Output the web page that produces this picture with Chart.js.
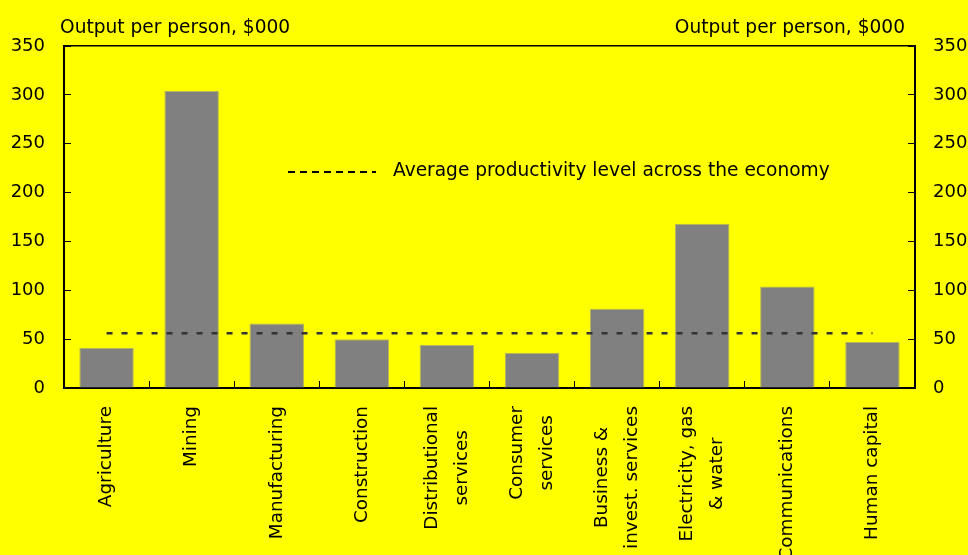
<!DOCTYPE html>
<html>
<head>
<meta charset="utf-8">
<script src="https://cdn.jsdelivr.net/npm/chart.js@4"></script>
<style>
  html, body { margin: 0; padding: 0; background: #ffff00; }
  canvas { display: block; }
</style>
</head>
<body>
<canvas id="productividad" width="968" height="555"></canvas>
<script>
const sectors = [
    ["Agriculture"],
    ["Mining"],
    ["Manufacturing"],
    ["Construction"],
    ["Distributional", "services"],
    ["Consumer", "services"],
    ["Business &", "invest. services"],
    ["Electricity, gas", "& water"],
    ["Communications"],
    ["Human capital"]
];
const outputPerPerson = [41, 304, 66, 50, 44, 36, 81, 168, 104, 47];
const averageLevel = [56, 56, 56, 56, 56, 56, 56, 56, 56, 56];
const yTicks = [0, 50, 100, 150, 200, 250, 300, 350];

const axisTitle = "Output per person, $000";
const legendText = "Average productivity level across the economy";
const fontFamily = "'DejaVu Sans', Verdana, sans-serif";

const textPlugin = {
    id: "textos",
    afterDraw(chart) {
        const ctx = chart.ctx;
        const area = chart.chartArea;
        const x = chart.scales.x;

        ctx.save();
        ctx.fillStyle = "#000";
        ctx.font = "18.6px " + fontFamily;
        ctx.textBaseline = "alphabetic";

        // titulos de los ejes
        ctx.textAlign = "left";
        ctx.fillText(axisTitle, 60, 33);
        ctx.textAlign = "right";
        ctx.fillText(axisTitle, 905, 33);

        // leyenda
        ctx.strokeStyle = "#000";
        ctx.lineWidth = 2;
        ctx.setLineDash([7, 5]);
        ctx.beginPath();
        ctx.moveTo(288, 172);
        ctx.lineTo(376, 172);
        ctx.stroke();
        ctx.setLineDash([]);
        ctx.textAlign = "left";
        ctx.fillText(legendText, 393, 176);

        // etiquetas del eje x, giradas y centradas
        ctx.font = "18.4px " + fontFamily;
        const top = area.bottom + 18;
        const lh = 30;
        sectors.forEach((lines, i) => {
            const px = x.getPixelForValue(i);
            const maxW = Math.max(...lines.map(l => ctx.measureText(l).width));
            ctx.save();
            ctx.translate(px, top);
            ctx.rotate(-Math.PI / 2);
            ctx.textAlign = "center";
            ctx.textBaseline = "middle";
            lines.forEach((line, j) => {
                ctx.fillText(line, -maxW / 2, (j - (lines.length - 1) / 2) * lh);
            });
            ctx.restore();
        });
        ctx.restore();
    }
};

document.addEventListener("DOMContentLoaded", () => {

    const canvas = document.getElementById("productividad");

    new Chart(canvas, {

        data: {

            labels: sectors.map(s => s.join(" ")),

            datasets: [
                {
                    type: "line",
                    label: legendText,
                    data: averageLevel,
                    borderColor: "#333333",
                    borderWidth: 2.5,
                    borderDash: [6, 9],
                    pointRadius: 0,
                    fill: false,
                    yAxisID: "y",
                    order: 0
                },
                {
                    type: "bar",
                    label: axisTitle,
                    data: outputPerPerson,
                    backgroundColor: "#808080",
                    borderColor: "#b4b45a",
                    borderWidth: 1,
                    barPercentage: 0.64,
                    categoryPercentage: 1.0,
                    yAxisID: "y",
                    order: 1
                }
            ]
        },

        options: {

            responsive: false,
            animation: false,

            layout: {
                padding: { top: 46, left: 0, right: 0, bottom: 0 }
            },

            plugins: {
                legend: { display: false },
                tooltip: { enabled: false }
            },

            scales: {

                x: {
                    position: "bottom",
                    offset: true,
                    ticks: { display: false },
                    grid: {
                        offset: true,
                        drawOnChartArea: false,
                        drawTicks: true,
                        tickLength: -7,
                        color: "#000",
                        lineWidth: 1
                    },
                    border: { display: true, color: "#000", width: 2 },
                    afterFit: scale => { scale.height = 167; }
                },

                x2: {
                    type: "category",
                    position: "top",
                    labels: sectors.map(s => s.join(" ")),
                    ticks: { display: false },
                    grid: { display: false, drawTicks: false },
                    border: { display: true, color: "#000", width: 1.5 },
                    afterFit: scale => { scale.height = 0; }
                },

                y: {
                    position: "left",
                    min: 0,
                    max: 350,
                    afterBuildTicks: scale => {
                        scale.ticks = yTicks.map(v => ({ value: v }));
                    },
                    ticks: {
                        color: "#000",
                        padding: 26,
                        crossAlign: "near",
                        font: { family: fontFamily, size: 18 }
                    },
                    grid: {
                        drawOnChartArea: false,
                        tickLength: -7,
                        color: "#000"
                    },
                    border: { display: true, color: "#000", width: 2 },
                    afterFit: scale => { scale.width = 64; }
                },

                y2: {
                    position: "right",
                    min: 0,
                    max: 350,
                    afterBuildTicks: scale => {
                        scale.ticks = yTicks.map(v => ({ value: v }));
                    },
                    ticks: {
                        color: "#000",
                        padding: 25,
                        font: { family: fontFamily, size: 18 }
                    },
                    grid: {
                        drawOnChartArea: false,
                        tickLength: -7,
                        color: "#000"
                    },
                    border: { display: true, color: "#000", width: 2 },
                    afterFit: scale => { scale.width = 53; }
                }
            }
        },

        plugins: [textPlugin]

    });

});
</script>
</body>
</html>
